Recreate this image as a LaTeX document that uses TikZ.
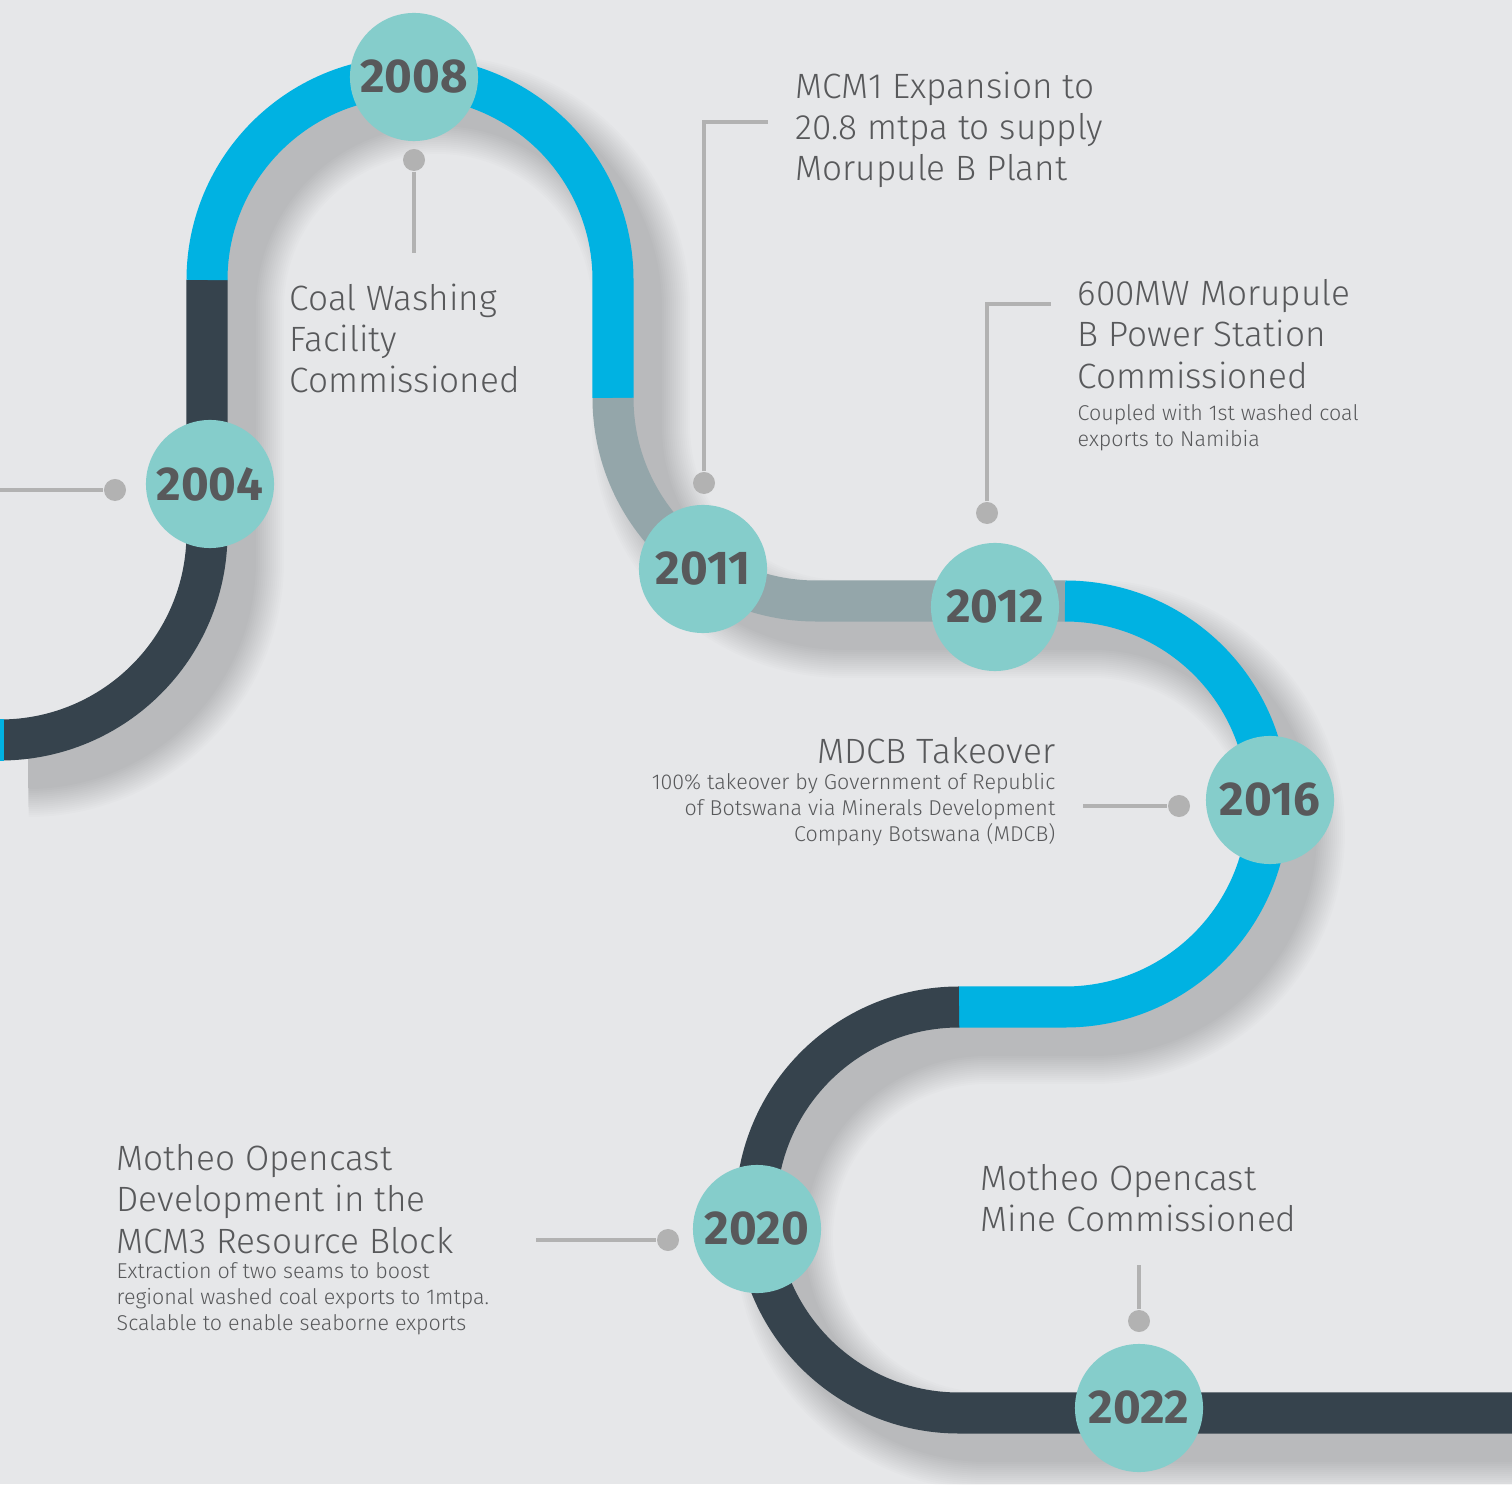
\documentclass[tikz,border=0pt]{standalone}
\usepackage{fontspec}
\setmainfont{Fira Sans}[UprightFont=* Light, BoldFont=* Bold]
\usetikzlibrary{positioning}
\definecolor{paper}{RGB}{230,231,233}
\definecolor{sky}{RGB}{0,178,226}
\definecolor{slate}{RGB}{54,67,77}
\definecolor{steel}{RGB}{148,166,170}
\definecolor{disc}{RGB}{133,205,203}
\definecolor{ink}{RGB}{88,89,91}
\definecolor{leadgray}{RGB}{178,178,178}

% trace complet de la piste
\newcommand{\trackpath}{(0,744) arc[start angle=-90, end angle=0, radius=207] -- (207,1204)
  arc[start angle=180, end angle=0, radius=203] -- (613,1086)
  arc[start angle=180, end angle=270, radius=203] -- (1065,883)
  arc[start angle=90, end angle=-90, radius=203] -- (959,477)
  arc[start angle=90, end angle=270, radius=203] -- (1512,71)}

\tikzset{
  band/.style={line width=4.1mm},
  lead/.style={draw=leadgray, line width=0.4mm},
  dot/.style={circle, fill=leadgray, inner sep=0pt, minimum size=2.2mm},
  year/.style={circle, fill=disc, inner sep=0pt, minimum size=12.8mm, text=ink,
    font=\fontsize{13.5}{13.5}\selectfont\bfseries},
  head/.style={inner sep=0pt, text=ink, align=left, font=\fontsize{10}{11.7}\selectfont},
  note/.style={inner sep=0pt, text=ink, align=left, font=\fontsize{6.1}{7.3}\selectfont}
}

\begin{document}
\begin{tikzpicture}[x=0.01cm, y=0.01cm]
  % fond
  \fill[paper] (0,0) rectangle (1512,1484);
  \useasboundingbox (0,0) rectangle (1512,1484);

  % ombre
  \foreach \w in {4.2,4.6,...,10.2}
    \draw[line width=\w mm, black, opacity=0.01, shift={(28,-28)}] \trackpath;

  % piste
  \draw[band, slate] (0,744) arc[start angle=-90, end angle=0, radius=207] -- (207,1204);
  \draw[band, sky] (0,744) -- (4,744);
  \draw[band, sky] (207,1204) arc[start angle=180, end angle=0, radius=203] -- (613,1086);
  \draw[band, steel] (613,1086) arc[start angle=180, end angle=270, radius=203] -- (1065,883);
  \draw[band, sky] (1065,883) arc[start angle=90, end angle=-90, radius=203] -- (959,477);
  \draw[band, slate] (959,477) arc[start angle=90, end angle=270, radius=203] -- (1512,71);

  % reperes
  \node[dot] (d04) at (115,994) {};
  \node[dot] (d08) at (414,1324) {};
  \node[dot] (d11) at (704,1001) {};
  \node[dot] (d12) at (987,971) {};
  \node[dot] (d16) at (1179,678) {};
  \node[dot] (d20) at (668,244) {};
  \node[dot] (d22) at (1139,163) {};
  \coordinate (e04) at (0,994);
  \coordinate (e08) at (414,1231);
  \coordinate (e11) at (768,1362);
  \coordinate (e12) at (1051,1180);
  \coordinate (e16) at (1083,678);
  \coordinate (e20) at (536,244);
  \coordinate (e22) at (1139,219);
  \draw[lead] (e04) -- (d04);
  \draw[lead] (d08) -- (e08);
  \draw[lead] (d11) |- (e11);
  \draw[lead] (d12) |- (e12);
  \draw[lead] (e16) -- (d16);
  \draw[lead] (e20) -- (d20);
  \draw[lead] (d22) -- (e22);

  % annees
  \node[year] (y2004) at (210,1000) {2004};
  \node[year] (y2008) at (414,1407) {2008};
  \node[year] (y2011) at (703,915) {2011};
  \node[year] (y2012) at (995,877) {2012};
  \node[year] (y2016) at (1270,684) {2016};
  \node[year] (y2020) at (757,255) {2020};
  \node[year] (y2022) at (1139,76) {2022};

  % textes
  \node[head, anchor=north west] (t08) at (289,1201) {Coal Washing\\Facility\\Commissioned};
  \node[head, anchor=north west] (t11) at (795,1413) {MCM1 Expansion to\\20.8 mtpa to supply\\Morupule B Plant};
  \node[head, anchor=north west] (t12) at (1077,1205) {600MW Morupule\\B Power Station\\Commissioned};
  \node[note, anchor=north west] (n12) at (1077,1080) {Coupled with 1st washed coal\\exports to Namibia};
  \node[head, anchor=north east, align=right] (t16) at (1056,747) {MDCB Takeover};
  \node[note, anchor=north east, align=right] (n16) at (1056,711) {100\% takeover by Government of Republic\\of Botswana via Minerals Development\\Company Botswana (MDCB)};
  \node[head, anchor=north west] (t20) at (116,340) {Motheo Opencast\\Development in the\\MCM3 Resource Block};
  \node[note, anchor=north west] (n20) at (116,222) {Extraction of two seams to boost\\regional washed coal exports to 1mtpa.\\Scalable to enable seaborne exports};
  \node[head, anchor=north west] (t22) at (980,320) {Motheo Opencast\\Mine Commissioned};
\end{tikzpicture}
\end{document}
